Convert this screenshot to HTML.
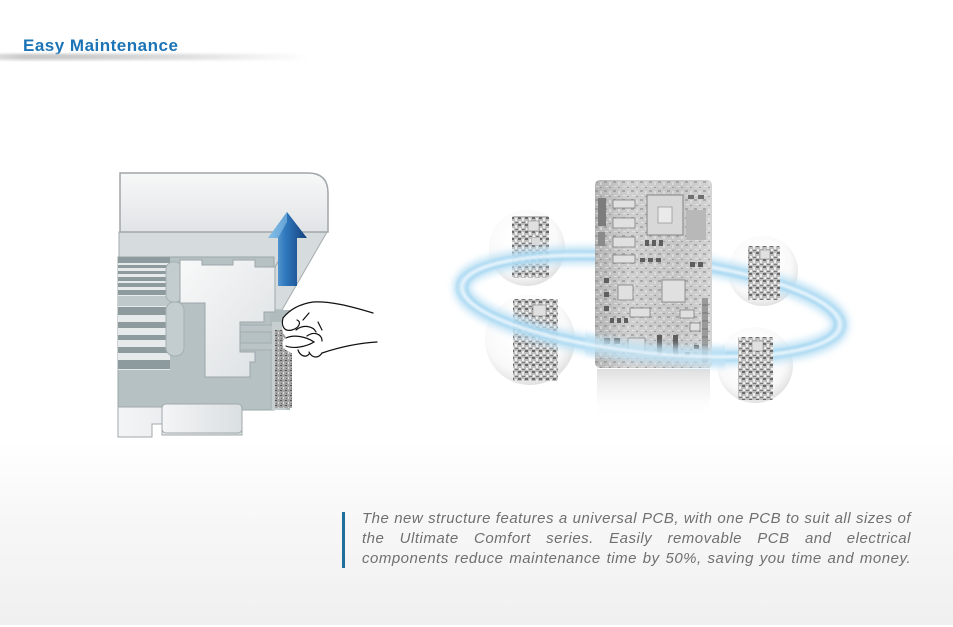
<!DOCTYPE html>
<html><head><meta charset="utf-8"><style>
html,body{margin:0;padding:0;}
body{width:953px;height:627px;position:relative;overflow:hidden;background:#fff;font-family:"Liberation Sans",Arial,sans-serif;}
.bg{position:absolute;left:0;top:0;width:953px;height:625px;background:linear-gradient(to bottom,#ffffff 0px,#ffffff 440px,#f7f7f7 520px,#f0f0f0 625px);}
.title{position:absolute;left:23px;top:36px;font-size:17px;line-height:20px;font-weight:bold;color:#1c74b6;letter-spacing:0.5px;white-space:nowrap;}
.tbar{position:absolute;left:0;top:52px;width:310px;height:10px;background:linear-gradient(to right,#dadada 0%,#c8c8c8 8%,#cecece 30%,#e0e0e0 60%,#f4f4f4 85%,rgba(255,255,255,0) 100%);-webkit-mask-image:linear-gradient(to bottom,transparent 0%,#000 35%,#000 60%,transparent 100%);mask-image:linear-gradient(to bottom,transparent 0%,#000 35%,#000 60%,transparent 100%);}
.vbar{position:absolute;left:342px;top:512px;width:3px;height:56px;background:#1f6e9c;}
.para{position:absolute;left:362px;top:509px;width:549px;font-size:15px;line-height:20px;font-style:italic;color:#707070;letter-spacing:0.5px;}
.para div{text-align:justify;text-align-last:justify;white-space:nowrap;}
svg{position:absolute;left:0;top:0;}
</style></head><body>
<div class="bg"></div>
<svg width="953" height="627" viewBox="0 0 953 627">
<defs>
<linearGradient id="boxG" x1="0" y1="0" x2="0" y2="1"><stop offset="0" stop-color="#f7f8f8"/><stop offset="1" stop-color="#e1e4e6"/></linearGradient>
<linearGradient id="whG" x1="0" y1="0" x2="1" y2="1"><stop offset="0" stop-color="#f8f9f9"/><stop offset="1" stop-color="#dce0e2"/></linearGradient>
<linearGradient id="baseG" x1="0" y1="0" x2="1" y2="0"><stop offset="0" stop-color="#f4f5f6"/><stop offset="1" stop-color="#dadfe1"/></linearGradient>
<linearGradient id="arrG" x1="0" y1="0" x2="1" y2="0"><stop offset="0" stop-color="#7db8e4"/><stop offset="0.45" stop-color="#2f78bd"/><stop offset="1" stop-color="#143f7a"/></linearGradient>
<linearGradient id="boardG" x1="0" y1="0" x2="1" y2="0"><stop offset="0" stop-color="#b4b4b4"/><stop offset="0.3" stop-color="#d0d0d0"/><stop offset="0.7" stop-color="#c6c6c6"/><stop offset="1" stop-color="#d4d4d4"/></linearGradient>
<linearGradient id="reflG" x1="0" y1="0" x2="0" y2="1"><stop offset="0" stop-color="#d6d6d6" stop-opacity="0.8"/><stop offset="1" stop-color="#ffffff" stop-opacity="0"/></linearGradient>
<radialGradient id="bubG" cx="0.45" cy="0.4" r="0.6"><stop offset="0" stop-color="#ffffff" stop-opacity="0"/><stop offset="0.75" stop-color="#f5f5f5" stop-opacity="0.6"/><stop offset="1" stop-color="#dedede" stop-opacity="0.9"/></radialGradient>
<pattern id="sb" width="7" height="7" patternUnits="userSpaceOnUse">
<rect width="7" height="7" fill="#bdbdbd"/>
<rect x="0" y="0" width="3" height="2" fill="#6a6a6a"/>
<rect x="4" y="1" width="2" height="3" fill="#ececec"/>
<rect x="1" y="4" width="2" height="2" fill="#f0f0f0"/>
<rect x="4" y="5" width="3" height="1" fill="#787878"/>
</pattern>
<pattern id="mb" width="9" height="9" patternUnits="userSpaceOnUse">
<rect x="1" y="1" width="3" height="2" fill="#8a8a8a"/>
<rect x="6" y="2" width="2" height="3" fill="#e8e8e8"/>
<rect x="2" y="6" width="3" height="1" fill="#f0f0f0"/>
<rect x="6" y="7" width="2" height="1" fill="#7a7a7a"/>
</pattern>
<pattern id="cd" width="5" height="5" patternUnits="userSpaceOnUse">
<rect width="5" height="5" fill="#a4a4a4"/>
<rect x="0" y="0" width="2" height="1" fill="#555"/>
<rect x="3" y="2" width="1" height="2" fill="#e0e0e0"/>
<rect x="1" y="3" width="1" height="1" fill="#6a6a6a"/>
</pattern>
<filter id="bl3" x="-20%" y="-50%" width="140%" height="200%"><feGaussianBlur stdDeviation="3.5"/></filter>
<filter id="bl1" x="-20%" y="-50%" width="140%" height="200%"><feGaussianBlur stdDeviation="1"/></filter>
<clipPath id="frontClip"><rect x="585" y="328" width="140" height="60"/></clipPath>
</defs>

<!-- LEFT ILLUSTRATION -->
<polygon points="119,232 327,232 282,310 119,310" fill="#d6dbdd" stroke="#a5abad" stroke-width="1"/>
<line x1="285" y1="250" x2="275" y2="267" stroke="#9aa2a5" stroke-width="1"/>
<rect x="118" y="257" width="156" height="153" fill="#b6c1c4" stroke="#9ba6a9" stroke-width="1"/>
<rect x="270" y="310" width="20" height="100" fill="#b0bbbe"/>
<rect x="118" y="257" width="52" height="113" fill="#e6eaeb"/>
<g fill="#8e9b9e">
<rect x="118" y="257" width="52" height="6"/>
<rect x="118" y="265" width="52" height="3"/>
<rect x="118" y="271" width="52" height="3"/>
<rect x="118" y="277" width="52" height="4"/>
<rect x="118" y="283" width="52" height="4"/>
<rect x="118" y="290" width="52" height="5"/>
<rect x="118" y="307" width="52" height="8"/>
<rect x="118" y="322" width="52" height="6"/>
<rect x="118" y="335" width="52" height="5"/>
<rect x="118" y="347" width="52" height="6"/>
<rect x="118" y="360" width="52" height="9"/>
</g>
<rect x="118" y="296" width="52" height="10" fill="#bfc9cb"/>
<rect x="166" y="262" width="16" height="40" rx="7" fill="#c3cccf" stroke="#a4afb2"/>
<rect x="166" y="302" width="18" height="54" rx="8" fill="#c3cccf" stroke="#a4afb2"/>
<polygon points="180,260 202,260 202,265 233,265 233,260 255,260 255,267 275,267 275,312 264,312 264,322 240,322 240,352 255,352 255,362 250,362 250,377 205,377 205,303 180,303" fill="url(#whG)" stroke="#9ea8ab" stroke-width="1"/>
<rect x="240" y="325" width="33" height="7" fill="#bac4c7" stroke="#9ea8ab" stroke-width="0.8"/>
<rect x="240" y="343" width="33" height="7" fill="#bac4c7" stroke="#9ea8ab" stroke-width="0.8"/>
<path d="M118,407 L242,407 L242,435 L162,435 L162,424 L152,424 L152,437 L118,437 Z" fill="url(#baseG)" stroke="#a2a8ab" stroke-width="1"/>
<rect x="162" y="404" width="80" height="29" rx="4" fill="url(#baseG)" stroke="#a2a8ab" stroke-width="1"/>
<path d="M120,173 L308,173 Q328,173 328,193 L328,232 L120,232 Z" fill="url(#boxG)" stroke="#a0a6a9" stroke-width="1.5"/>
<rect x="272" y="322" width="14" height="88" fill="#c6ced0"/>
<rect x="275" y="330" width="17" height="78" fill="url(#cd)"/>
<polygon points="287,212 307,238 297,238 297,286 278,286 278,238 268,238" fill="url(#arrG)"/>
<polygon points="287,212 268,238 278,238 287,222" fill="#8cc3ea" opacity="0.6"/>
<path d="M283,318 C290,309 300,304 313,302 C330,301 350,306 373,313 L377,342 C360,343 340,347 322,353 C318,359 312,361 306,358 C300,357 292,354 286,350 C281,346 282,340 286,337 C282,333 281,325 283,318 Z" fill="#ffffff"/>
<g fill="none" stroke="#111" stroke-width="1.2" stroke-linecap="round">
<path d="M283,318 C290,309 300,304 313,302 C330,301 350,306 373,313"/>
<path d="M377,342 C360,343 340,347 322,353"/>
<path d="M283,318 C281,326 284,332 292,330 C299,328 302,322 297,320"/>
<path d="M296,330 C303,324 313,326 316,332"/>
<path d="M307,336 C314,331 322,334 322,341"/>
<path d="M286,338 C294,334 307,337 314,342 C306,347 293,349 286,346"/>
<path d="M298,350 C300,356 306,358 309,354"/>
<path d="M309,352 C312,358 318,359 322,353"/>
<path d="M303,320 L309,313"/>
<path d="M322,330 L318,322"/>
</g>

<!-- RIGHT ILLUSTRATION -->
<rect x="597" y="369" width="113" height="50" fill="url(#reflG)"/>
<circle cx="527" cy="248" r="38" fill="url(#bubG)"/>
<circle cx="530" cy="340" r="45" fill="url(#bubG)"/>
<circle cx="763" cy="271" r="35" fill="url(#bubG)"/>
<circle cx="755" cy="365" r="38" fill="url(#bubG)"/>
<!-- left small boards (behind ring) -->
<rect x="512" y="216" width="37" height="62" rx="2" fill="url(#sb)"/>
<rect x="528" y="221" width="11" height="10" fill="#e0e0e0" stroke="#888" stroke-width="0.6"/>
<rect x="532" y="238" width="8" height="7" fill="#dadada"/>
<rect x="513" y="299" width="45" height="82" rx="2" fill="url(#sb)"/>
<rect x="533" y="305" width="13" height="11" fill="#e0e0e0" stroke="#888" stroke-width="0.6"/>
<rect x="540" y="330" width="9" height="8" fill="#dadada"/>
<!-- ring (back) -->
<g transform="rotate(6 651 306)">
<ellipse cx="651" cy="306" rx="190" ry="47" fill="none" stroke="#bfe2f5" stroke-width="18" filter="url(#bl3)" opacity="0.9"/>
<ellipse cx="651" cy="306" rx="185" ry="43" fill="none" stroke="#92cdee" stroke-width="2.5" filter="url(#bl1)" opacity="0.6"/>
<ellipse cx="651" cy="306" rx="195" ry="51" fill="none" stroke="#9ed3f0" stroke-width="2.5" filter="url(#bl1)" opacity="0.6"/>
<ellipse cx="651" cy="306" rx="190" ry="47" fill="none" stroke="#f2faff" stroke-width="2" filter="url(#bl1)"/>
</g>
<!-- right small boards (in front of ring) -->
<rect x="748" y="246" width="32" height="54" rx="2" fill="url(#sb)"/>
<rect x="760" y="250" width="10" height="9" fill="#e0e0e0" stroke="#888" stroke-width="0.6"/>
<rect x="738" y="337" width="35" height="63" rx="2" fill="url(#sb)"/>
<rect x="752" y="341" width="11" height="10" fill="#e0e0e0" stroke="#888" stroke-width="0.6"/>
<!-- main board -->
<rect x="595" y="180" width="117" height="188" rx="5" fill="url(#boardG)"/>
<rect x="595" y="180" width="117" height="188" rx="5" fill="url(#mb)" opacity="0.55"/>
<rect x="598" y="198" width="8" height="28" fill="#7c7c7c"/>
<rect x="598" y="232" width="7" height="14" fill="#8a8a8a"/>
<rect x="647" y="195" width="36" height="40" fill="#d8d8d8" stroke="#858585" stroke-width="1"/>
<rect x="658" y="207" width="14" height="16" fill="#eaeaea" stroke="#9a9a9a" stroke-width="0.8"/>
<rect x="686" y="210" width="20" height="30" fill="#b8b8b8"/>
<rect x="688" y="195" width="6" height="4" fill="#707070"/><rect x="698" y="195" width="6" height="4" fill="#707070"/>
<g fill="#e0e0e0" stroke="#808080" stroke-width="0.8">
<rect x="613" y="200" width="22" height="8"/>
<rect x="613" y="218" width="22" height="10"/>
<rect x="613" y="237" width="22" height="10"/>
<rect x="613" y="255" width="22" height="8"/>
<rect x="662" y="280" width="23" height="22"/>
<rect x="618" y="285" width="15" height="15"/>
<rect x="630" y="308" width="20" height="9"/>
<rect x="628" y="338" width="17" height="15"/>
<rect x="680" y="310" width="14" height="8"/>
<rect x="690" y="323" width="10" height="8"/>
</g>
<g fill="#5e5e5e">
<rect x="645" y="240" width="4" height="6"/><rect x="652" y="240" width="4" height="6"/><rect x="659" y="240" width="4" height="6"/>
<rect x="640" y="258" width="5" height="4"/><rect x="648" y="258" width="5" height="4"/><rect x="656" y="258" width="5" height="4"/>
<rect x="604" y="278" width="5" height="5"/><rect x="604" y="292" width="5" height="5"/><rect x="604" y="306" width="5" height="5"/>
<rect x="610" y="318" width="4" height="5"/><rect x="617" y="318" width="4" height="5"/><rect x="624" y="318" width="4" height="5"/>
<rect x="657" y="335" width="5" height="20"/><rect x="673" y="335" width="5" height="20"/>
<rect x="604" y="338" width="6" height="6"/><rect x="614" y="338" width="6" height="6"/>
<rect x="690" y="262" width="5" height="5"/><rect x="698" y="262" width="5" height="5"/>
<rect x="694" y="345" width="5" height="4"/><rect x="685" y="352" width="5" height="4"/>
</g>
<rect x="702" y="298" width="6" height="64" fill="#9a9a9a"/>
<g stroke="#6e6e6e" stroke-width="0.8">
<line x1="702" y1="305" x2="708" y2="305"/><line x1="702" y1="313" x2="708" y2="313"/><line x1="702" y1="321" x2="708" y2="321"/><line x1="702" y1="329" x2="708" y2="329"/><line x1="702" y1="337" x2="708" y2="337"/><line x1="702" y1="345" x2="708" y2="345"/><line x1="702" y1="353" x2="708" y2="353"/>
</g>
<g clip-path="url(#frontClip)">
<g transform="rotate(6 651 306)">
<ellipse cx="651" cy="306" rx="190" ry="47" fill="none" stroke="#bfe2f5" stroke-width="18" filter="url(#bl3)" opacity="0.85"/>
<ellipse cx="651" cy="306" rx="190" ry="47" fill="none" stroke="#f2faff" stroke-width="2" filter="url(#bl1)"/>
</g>
</g>
</svg>
<div class="title">Easy Maintenance</div>
<div class="tbar"></div>
<div class="vbar"></div>
<div class="para">
<div>The new structure features a universal PCB, with one PCB to suit all sizes of</div>
<div>the Ultimate Comfort series. Easily removable PCB and electrical</div>
<div>components reduce maintenance time by 50%, saving you time and money.</div>
</div>
</body></html>
